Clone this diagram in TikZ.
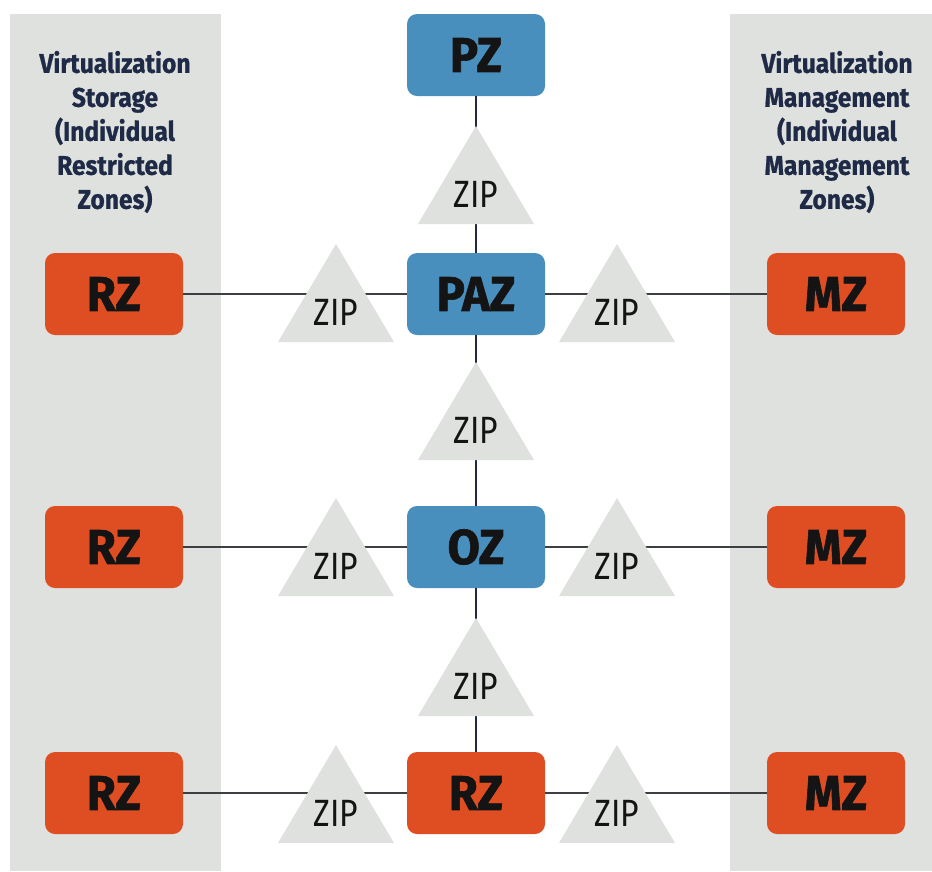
\documentclass[tikz,border=0pt]{standalone}
\usepackage{fontspec}
\setmainfont{Fira Sans}[FakeStretch=0.84]
\newfontfamily\boxfont{Fira Sans}[FakeStretch=0.96,FakeBold=1.2]
\newfontfamily\titlefont{Fira Sans}[FakeStretch=0.91,FakeBold=0.8]
\definecolor{zblue}{RGB}{73,143,189}
\definecolor{zorange}{RGB}{223,78,34}
\definecolor{zgray}{RGB}{223,225,222}
\definecolor{znavy}{RGB}{30,42,70}
\definecolor{zline}{RGB}{60,62,66}
\newcommand\ziptri[3]{%
  \fill[zgray] (#2-58,#3) -- (#2,#3-98) -- (#2+58,#3) -- cycle;
  \node[ziplabel] (#1) at (#2,#3-30) {ZIP};}
\begin{document}
\begin{tikzpicture}[x=1pt,y=-1pt,
  box/.style={rounded corners=10pt, minimum width=138pt, minimum height=82pt, inner sep=0pt,
    font=\boxfont\fontsize{49}{49}\selectfont\bfseries, text=black!92},
  bluebox/.style={box, fill=zblue},
  orgbox/.style={box, fill=zorange},
  ziplabel/.style={inner sep=0pt, font=\fontsize{38}{38}\selectfont, text=black!92},
  paneltitle/.style={align=center, inner sep=0pt, text=znavy,
    font=\titlefont\fontsize{27}{34}\selectfont\bfseries},
  vline/.style={draw=znavy, line width=2pt},
  hline/.style={draw=zline, line width=1.3pt}]
\useasboundingbox (0,0) rectangle (932,871);
\fill[white] (0,0) rectangle (932,871);
% panels
\fill[zgray] (10,14) rectangle (221,871);
\fill[zgray] (730,14) rectangle (932,871);
\node[paneltitle] (ltitle) at (115,132) {Virtualization\\Storage\\(Individual\\Restricted\\Zones)};
\node[paneltitle] (rtitle) at (837,132) {Virtualization\\Management\\(Individual\\Management\\Zones)};
% center column
\node[bluebox] (pz) at (476,55) {PZ};
\node[bluebox] (paz) at (476,294) {PAZ};
\node[bluebox] (oz) at (476,547) {OZ};
\node[orgbox] (rzc) at (476,793) {RZ};
% left column
\node[orgbox] (rz1) at (114,294) {RZ};
\node[orgbox] (rz2) at (114,547) {RZ};
\node[orgbox] (rz3) at (114,793) {RZ};
% right column
\node[orgbox] (mz1) at (836,294) {MZ};
\node[orgbox] (mz2) at (836,547) {MZ};
\node[orgbox] (mz3) at (836,793) {MZ};
% connectors
\draw[vline] (pz) -- (paz);
\draw[vline] (paz) -- (oz);
\draw[vline] (oz) -- (rzc);
\draw[hline] (rz1) -- (paz);
\draw[hline] (paz) -- (mz1);
\draw[hline] (rz2) -- (oz);
\draw[hline] (oz) -- (mz2);
\draw[hline] (rz3) -- (rzc);
\draw[hline] (rzc) -- (mz3);
% ZIP triangles
\ziptri{zv1}{476}{224}
\ziptri{zv2}{476}{460}
\ziptri{zv3}{476}{716}
\ziptri{zl1}{336}{342}
\ziptri{zr1}{617}{342}
\ziptri{zl2}{336}{596}
\ziptri{zr2}{617}{596}
\ziptri{zl3}{336}{843}
\ziptri{zr3}{617}{843}
\end{tikzpicture}
\end{document}
